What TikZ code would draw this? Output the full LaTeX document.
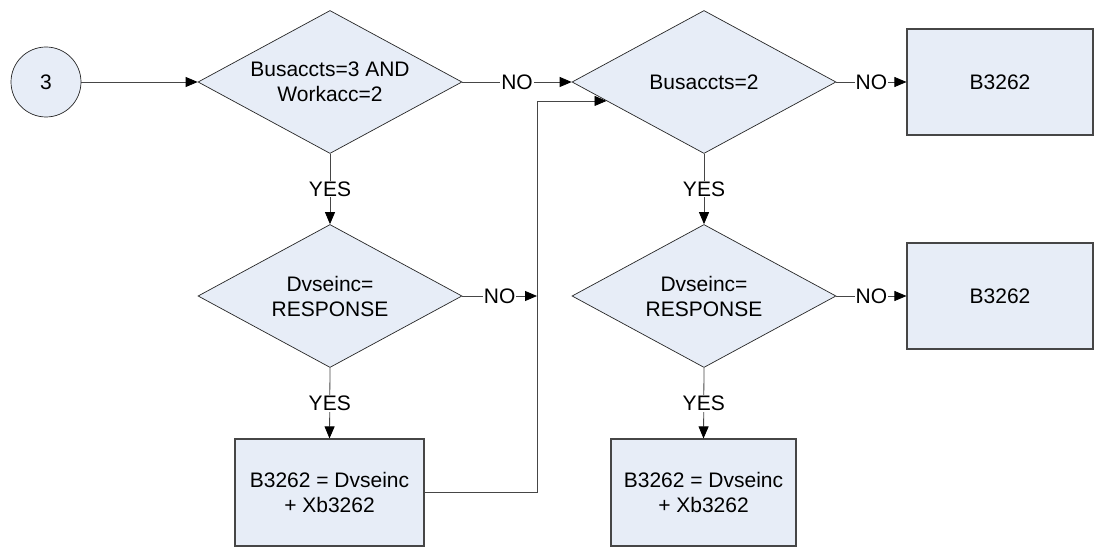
\documentclass[tikz,border=0pt]{standalone}
\usepackage{fontspec}
\setmainfont{Liberation Sans}
\usetikzlibrary{shapes.geometric,arrows.meta}
\definecolor{shapefill}{RGB}{231,237,247}
\definecolor{linegray}{RGB}{70,70,70}
\begin{document}
\begin{tikzpicture}[x=1pt,y=-1pt,
  every node/.style={font=\fontsize{21}{25}\selectfont},
  dec/.style={diamond, draw=black!85, line width=0.7pt, fill=shapefill, aspect=1.85, inner sep=0pt,
              minimum width=264pt, minimum height=143pt, align=center},
  proc/.style={rectangle, draw=linegray, line width=1.1pt, fill=shapefill,
               minimum width=186pt, minimum height=106pt, align=center},
  term/.style={circle, draw=black!85, line width=0.7pt, fill=shapefill, minimum size=70pt, inner sep=0pt},
  conn/.style={draw=linegray, line width=0.8pt, -{Triangle[length=12pt,width=10pt,color=black]}},
  lbl/.style={fill=white, inner sep=1pt}]
\useasboundingbox (0,0) rectangle (1113,553);

\node[term] (c3) at (46,82) {3};
\node[dec] (d1) at (330,82) {Busaccts=3 AND\\Workacc=2};
\node[dec] (d2) at (704,82) {Busaccts=2};
\node[proc] (b1) at (1000,82) {B3262};
\node[dec] (d3) at (330,296) {Dvseinc=\\RESPONSE};
\node[dec] (d4) at (704,296) {Dvseinc=\\RESPONSE};
\node[proc] (b2) at (1000,296) {B3262};
\node[proc, minimum width=189pt, minimum height=107pt] (b3) at (329.5,492.5) {B3262 = Dvseinc\\+ Xb3262};
\node[proc, minimum width=185pt, minimum height=107pt] (b4) at (703.5,492.5) {B3262 = Dvseinc\\+ Xb3262};

\coordinate (jx) at (537,296);
\path (d2.191.3) coordinate (e2);

\draw[conn] (c3) -- (d1);
\draw[conn] (d1.east) -- node[lbl] {NO} (d2.west);
\draw[conn] (d1.south) -- node[lbl] {YES} (d3.north);
\draw[conn] (d3.east) -- node[lbl] {NO} (jx);
\draw[conn] (d3.south) -- node[lbl] {YES} (b3.north);
\draw[conn] (b3.east) -| (jx |- e2) -- (e2);
\draw[conn] (d2.east) -- node[lbl] {NO} (b1.west);
\draw[conn] (d2.south) -- node[lbl] {YES} (d4.north);
\draw[conn] (d4.east) -- node[lbl] {NO} (b2.west);
\draw[conn] (d4.south) -- node[lbl] {YES} (b4.north);
\end{tikzpicture}
\end{document}
